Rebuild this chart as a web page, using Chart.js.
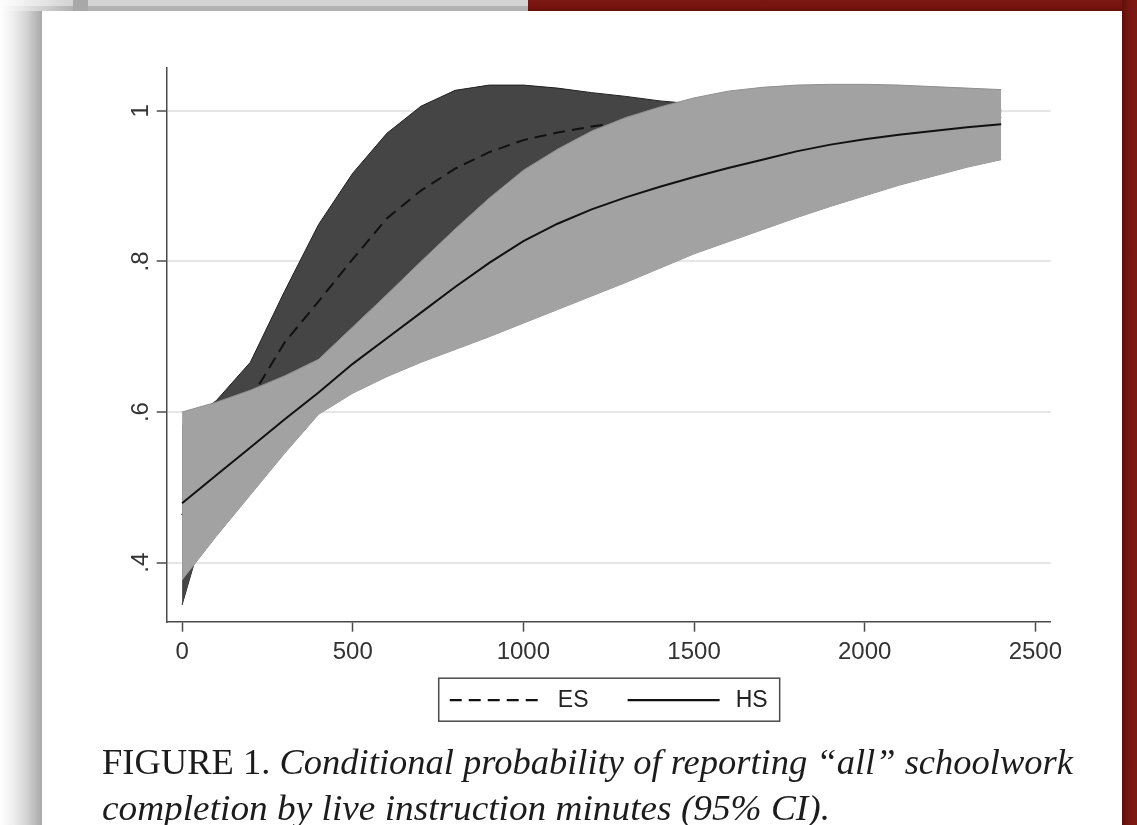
<!DOCTYPE html>
<html>
<head>
<meta charset="utf-8">
<script src="https://cdn.jsdelivr.net/npm/chart.js@4.4.0/dist/chart.umd.min.js"></script>
<style>
  html, body { margin:0; padding:0; width:1137px; height:825px; overflow:hidden; background:#ffffff; }
  .deco { position:absolute; }
  #leftShade { left:0; top:0; width:42px; height:825px;
    background:linear-gradient(to right,#fefefe 0%,#f0f0f0 30%,#d6d6d6 62%,#bababa 85%,#a9a9a9 100%); }
  #topGray { left:0; top:0; width:528px; height:11px;
    background:linear-gradient(to bottom,#d3d3d3 0%,#d3d3d3 50%,#b2b2b2 56%,#b2b2b2 100%); }
  #topFade { left:0; top:0; width:72px; height:11px;
    background:linear-gradient(to right,#ffffff 0%,rgba(255,255,255,0) 100%); }
  #topDark { left:73px; top:0; width:15px; height:11px; background:#a8a8a8; }
  #topRed { left:528px; top:0; width:609px; height:11px;
    background:linear-gradient(to bottom,#7b1711 0%,#76140f 60%,#65100c 100%); }
  #rightRed { left:1122px; top:0; width:15px; height:825px;
    background:linear-gradient(to right,#5f0f0b 0%,#761610 40%,#7f1a13 100%); }
  #cv { position:absolute; left:0; top:0; }
  .cap { position:absolute; left:102px; font-family:"Liberation Serif","DejaVu Serif",serif;
    font-size:35px; line-height:35px; color:#1c1c1c; white-space:nowrap; }
  .cap span.inner { display:inline-block; transform-origin:0 50%; }
  .cap i { font-style:italic; }
</style>
</head>
<body>
<div class="deco" id="leftShade"></div>
<div class="deco" id="topGray"></div>
<div class="deco" id="topFade"></div>
<div class="deco" id="topDark"></div>
<div class="deco" id="topRed"></div>
<div class="deco" id="rightRed"></div>
<canvas id="cv" width="1137" height="825"></canvas>
<div class="cap" id="cap1" style="top:745px;"><span class="inner" data-target="971">FIGURE 1. <i>Conditional probability of reporting “all” schoolwork</i></span></div>
<div class="cap" id="cap2" style="top:791px;"><span class="inner" data-target="728"><i>completion by live instruction minutes (95% CI).</i></span></div>
<script>
// ---- data ----
const minutes = [0, 100, 200, 300, 400, 500, 600, 700, 800, 900, 1000, 1100, 1200,
                 1300, 1400, 1500, 1600, 1700, 1800, 1900, 2000, 2100, 2200, 2300, 2400];

const esUpper = [0.582, 0.615, 0.666, 0.760, 0.849, 0.917, 0.970, 1.006, 1.027, 1.034, 1.034, 1.030, 1.024,
                 1.019, 1.013, 1.009, 1.006, 1.004, 1.003, 1.002, 1.002, 1.001, 1.001, 1.001, 1.001];
const esLine  = [0.463, 0.540, 0.617, 0.692, 0.747, 0.803, 0.857, 0.894, 0.923, 0.945, 0.961, 0.971, 0.979,
                 0.985, 0.989, 0.992, 0.994, 0.995, 0.996, 0.997, 0.997, 0.998, 0.998, 0.998, 0.998];
const esLower = [0.344, 0.500, 0.564, 0.625, 0.646, 0.690, 0.744, 0.782, 0.817, 0.851, 0.880, 0.905, 0.929,
                 0.948, 0.962, 0.972, 0.979, 0.983, 0.986, 0.988, 0.989, 0.990, 0.991, 0.991, 0.991];

const hsUpper = [0.600, 0.613, 0.629, 0.648, 0.670, 0.713, 0.756, 0.800, 0.843, 0.884, 0.921, 0.949, 0.973,
                 0.991, 1.005, 1.017, 1.026, 1.031, 1.034, 1.035, 1.035, 1.034, 1.032, 1.030, 1.028];
const hsLine  = [0.479, 0.516, 0.553, 0.590, 0.626, 0.664, 0.698, 0.732, 0.766, 0.798, 0.827, 0.850, 0.869,
                 0.885, 0.899, 0.912, 0.924, 0.935, 0.946, 0.955, 0.962, 0.968, 0.973, 0.978, 0.982];
const hsLower = [0.377, 0.435, 0.490, 0.545, 0.597, 0.625, 0.647, 0.666, 0.683, 0.700, 0.718, 0.736, 0.754,
                 0.772, 0.791, 0.810, 0.826, 0.842, 0.858, 0.873, 0.887, 0.901, 0.913, 0.925, 0.935];

const seriesNames = ['ES', 'HS'];
const xTicks = [0, 500, 1000, 1500, 2000, 2500];
const xTickLabels = ['0', '500', '1000', '1500', '2000', '2500'];
const yTicks = [0.4, 0.6, 0.8, 1];
const yTickLabels = ['.4', '.6', '.8', '1'];

// ---- chart ----
const pts = arr => arr.map((v, i) => ({ x: minutes[i], y: v }));
const tickFont = { family: "'Liberation Sans', Arial, sans-serif", size: 24 };

const legendBox = {
  id: 'legendBox',
  afterDraw(chart) {
    const lg = chart.legend;
    if (!lg || !lg.legendHitBoxes || !lg.legendHitBoxes.length) return;
    const hb = lg.legendHitBoxes;
    const l = Math.min(...hb.map(b => b.left)) - 11;
    const r = Math.max(...hb.map(b => b.left + b.width)) + 12;
    const t = hb[0].top - 10.5;
    const b = hb[0].top + hb[0].height + 9.5;
    const ctx = chart.ctx;
    ctx.save();
    ctx.strokeStyle = '#4a4a4a';
    ctx.lineWidth = 1.5;
    ctx.strokeRect(l, t, r - l, b - t);
    ctx.restore();
  }
};

new Chart(document.getElementById('cv'), {
  type: 'line',
  data: {
    datasets: [
      { label: 'ES upper', data: pts(esUpper), fill: '+1', backgroundColor: '#454545',
        borderColor: '#1f1f1f', borderWidth: 1, pointRadius: 0, tension: 0, order: 4 },
      { label: 'ES lower', data: pts(esLower), fill: false, backgroundColor: '#454545',
        borderColor: '#1f1f1f', borderWidth: 1, pointRadius: 0, tension: 0, order: 4 },
      { label: seriesNames[0], data: pts(esLine), fill: false, borderColor: '#111111',
        backgroundColor: '#111111', borderWidth: 2, borderDash: [12, 7], pointRadius: 0, tension: 0, order: 3 },
      { label: 'HS upper', data: pts(hsUpper), fill: '+1', backgroundColor: '#a2a2a2',
        borderColor: '#8f8f8f', borderWidth: 1, pointRadius: 0, tension: 0, order: 2 },
      { label: 'HS lower', data: pts(hsLower), fill: false, backgroundColor: '#a2a2a2',
        borderColor: '#8f8f8f', borderWidth: 1, pointRadius: 0, tension: 0, order: 2 },
      { label: seriesNames[1], data: pts(hsLine), fill: false, borderColor: '#111111',
        backgroundColor: '#111111', borderWidth: 2, pointRadius: 0, tension: 0, order: 1 }
    ]
  },
  options: {
    responsive: false,
    animation: false,
    devicePixelRatio: 1,
    events: [],
    layout: { padding: { left: 106.7, right: 86.3, top: 68, bottom: 103.3 } },
    scales: {
      x: {
        type: 'linear',
        min: -45, max: 2545,
        afterFit: s => { s.height = 44; },
        afterBuildTicks: s => { s.ticks = xTicks.map(v => ({ value: v })); },
        ticks: {
          padding: 6, color: '#333333', font: tickFont, maxRotation: 0, autoSkip: false,
          callback: v => xTickLabels[xTicks.indexOf(v)]
        },
        grid: { drawOnChartArea: false, drawTicks: true, tickLength: 10, tickColor: '#4a4a4a', tickWidth: 1.5 },
        border: { display: true, color: '#4a4a4a', width: 1.5 }
      },
      y: {
        type: 'linear',
        min: 0.3217, max: 1.0567,
        afterFit: s => { s.width = 60; },
        afterBuildTicks: s => { s.ticks = yTicks.map(v => ({ value: v })); },
        ticks: {
          padding: 5, color: '#333333', font: tickFont, minRotation: 90, maxRotation: 90,
          crossAlign: 'center', autoSkip: false,
          callback: v => yTickLabels[yTicks.indexOf(v)]
        },
        grid: { color: '#e6e6e6', lineWidth: 2, drawTicks: true, tickLength: 10, tickColor: '#4a4a4a', tickWidth: 1.5 },
        border: { display: true, color: '#4a4a4a', width: 1.5 }
      }
    },
    plugins: {
      tooltip: { enabled: false },
      title: { display: false },
      legend: {
        display: true,
        position: 'bottom',
        fullSize: false,
        labels: {
          usePointStyle: true,
          pointStyle: 'line',
          pointStyleWidth: 92,
          padding: 23,
          color: '#222222',
          font: { family: "'Liberation Sans', Arial, sans-serif", size: 23 },
          sort: (a, b) => a.datasetIndex - b.datasetIndex,
          generateLabels: chart => Chart.defaults.plugins.legend.labels.generateLabels(chart)
            .filter(it => seriesNames.includes(it.text))
            .map(it => {
              const ds = chart.data.datasets[it.datasetIndex];
              const last = it.text === seriesNames[seriesNames.length - 1];
              return Object.assign(it, {
                text: '\u2009' + it.text + (last ? '' : '\u2002\u2009'),
                lineWidth: 2.2,
                strokeStyle: '#111111',
                lineDash: ds.borderDash || []
              });
            })
        }
      }
    }
  },
  plugins: [legendBox]
});

// fit caption lines to the reference widths
function fitCaps() {
  document.querySelectorAll('.cap span.inner').forEach(el => {
    el.style.transform = 'none';
    const w = el.getBoundingClientRect().width;
    const target = parseFloat(el.dataset.target);
    if (w > 0) el.style.transform = 'scaleX(' + (target / w) + ')';
  });
}
fitCaps();
if (document.fonts && document.fonts.ready) document.fonts.ready.then(fitCaps);
</script>
</body>
</html>
